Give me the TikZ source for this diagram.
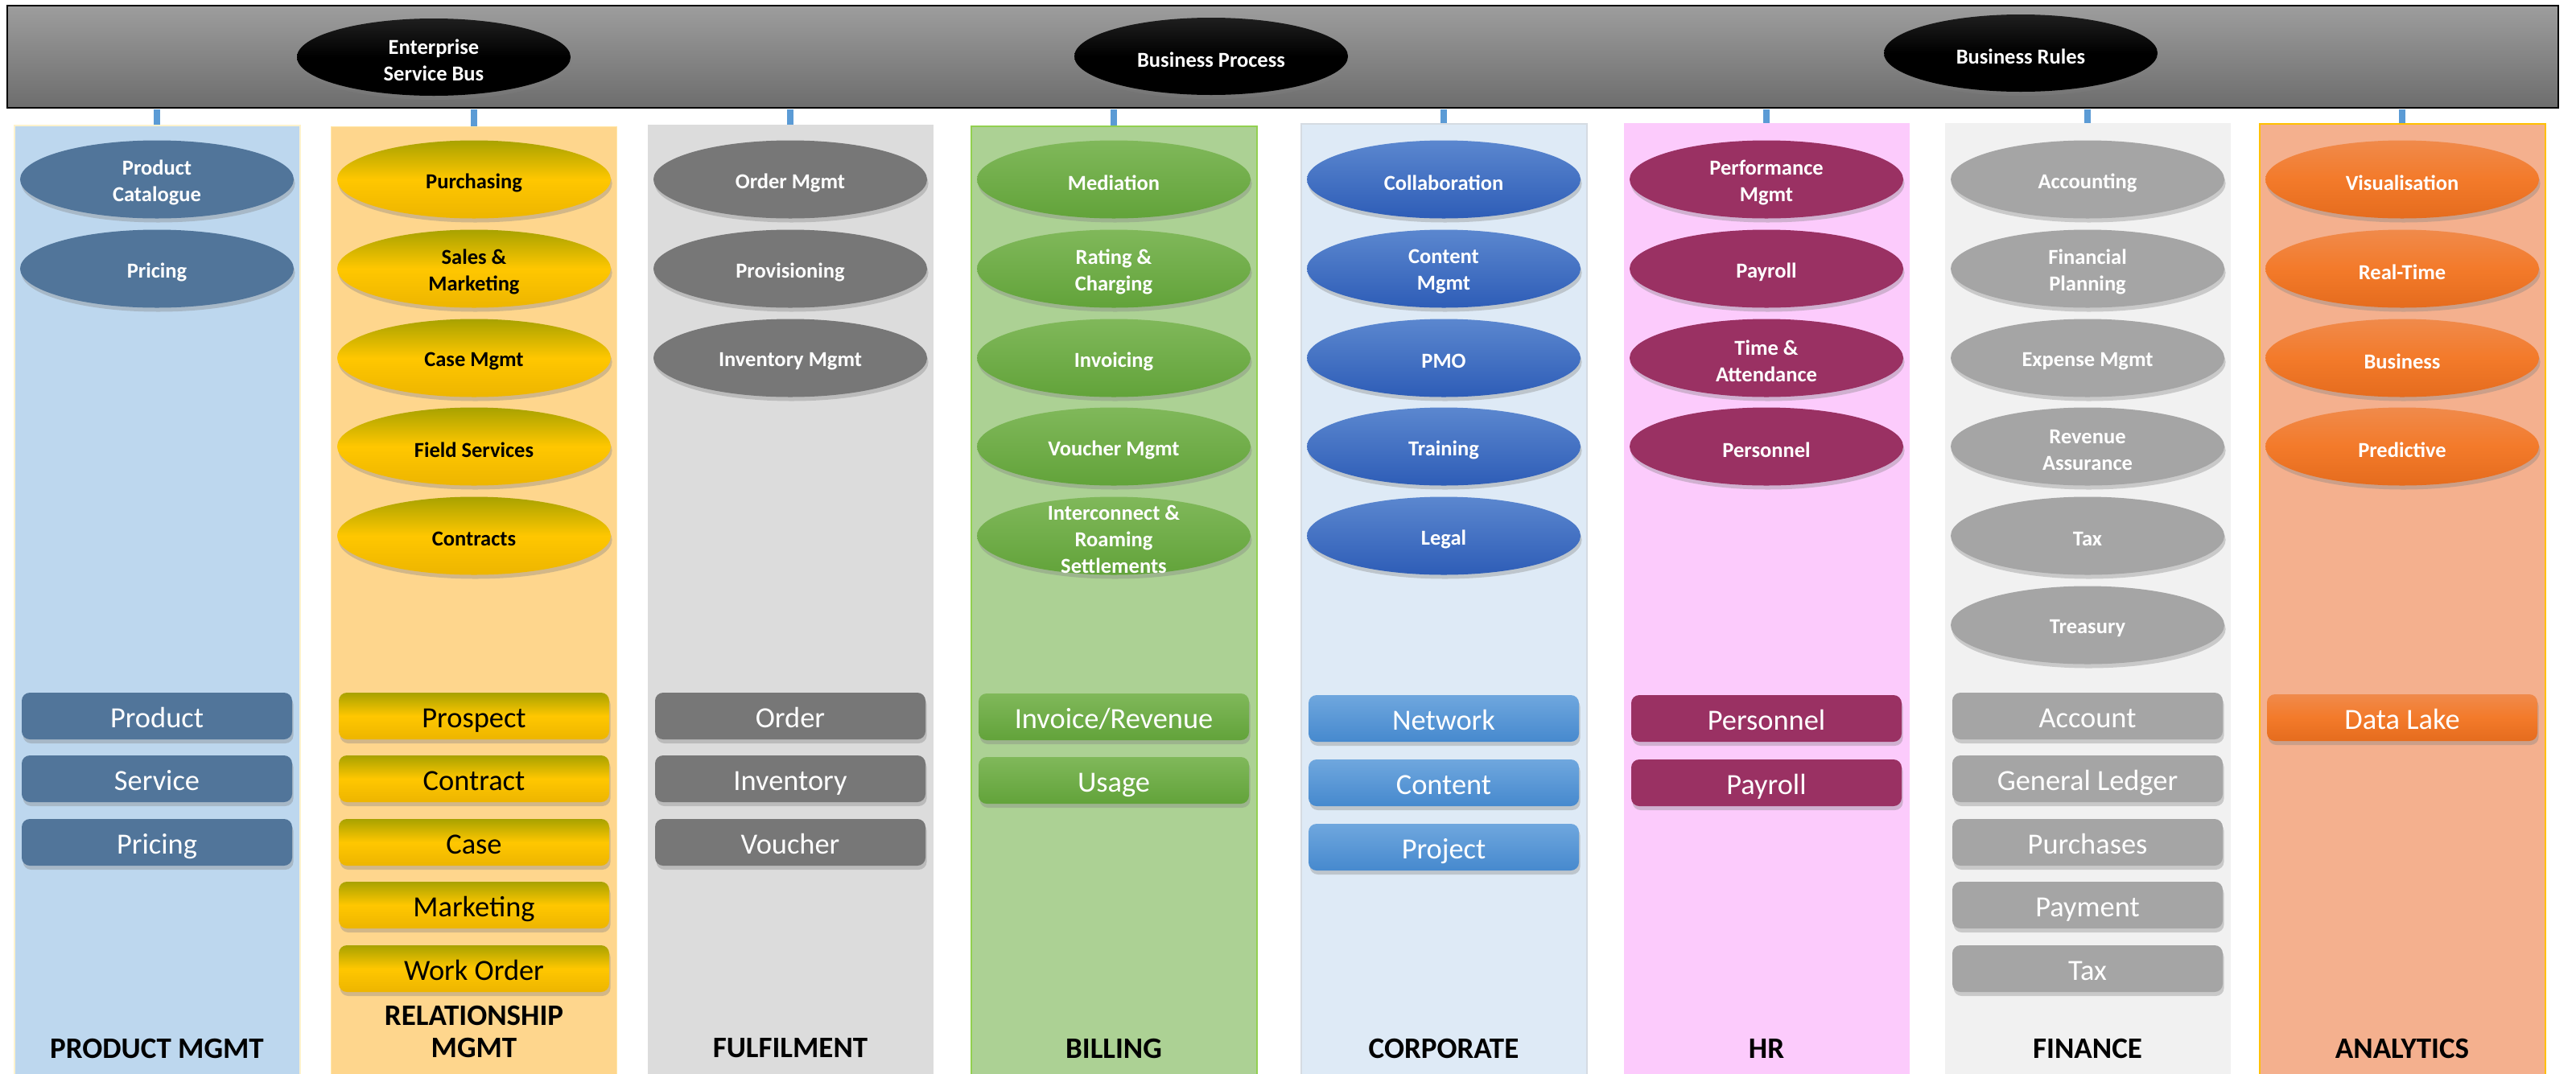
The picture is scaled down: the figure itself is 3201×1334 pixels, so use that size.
\documentclass[tikz,border=0pt]{standalone}
\usepackage{fontspec}
\setmainfont{Carlito}
\usetikzlibrary{shapes.geometric,shadows}
\definecolor{connblue}{HTML}{5B9BD5}
\definecolor{bgA}{HTML}{BDD7EE}
\definecolor{bdA}{HTML}{FFF2CC}
\definecolor{fgA}{HTML}{51759A}
\definecolor{bgB}{HTML}{FED68D}
\definecolor{bdB}{HTML}{FFE6A6}
\definecolor{yTop}{HTML}{A8A200}
\definecolor{yMid}{HTML}{FFC700}
\definecolor{yBot}{HTML}{EDB500}
\definecolor{bgC}{HTML}{DCDCDC}
\definecolor{fgC}{HTML}{777777}
\definecolor{bgD}{HTML}{ACD194}
\definecolor{bdD}{HTML}{92D050}
\definecolor{gTop}{HTML}{80B85A}
\definecolor{gBot}{HTML}{62A33A}
\definecolor{bgE}{HTML}{DEEAF6}
\definecolor{bdE}{HTML}{D5DBE2}
\definecolor{bTop}{HTML}{5B87CF}
\definecolor{bBot}{HTML}{2E5DB7}
\definecolor{lbTop}{HTML}{6FA7DE}
\definecolor{lbBot}{HTML}{4689CE}
\definecolor{bgF}{HTML}{FCCBFC}
\definecolor{fgF}{HTML}{9A3163}
\definecolor{bgG}{HTML}{F1F1F1}
\definecolor{fgG}{HTML}{A5A5A5}
\definecolor{bgH}{HTML}{F4B08E}
\definecolor{bdH}{HTML}{FFC000}
\definecolor{oTop}{HTML}{F08A4B}
\definecolor{oMid}{HTML}{F37A2A}
\definecolor{oBot}{HTML}{E56C1E}
\definecolor{barTop}{HTML}{9D9D9D}
\definecolor{barBot}{HTML}{6D6D6D}
\tikzset{
  col/.style={rectangle, minimum width=177.5pt, minimum height=592pt, inner sep=0pt, anchor=north},
  bar/.style={rectangle, minimum width=1585pt, minimum height=63.5pt, inner sep=0pt, draw=black, line width=1pt, top color=barTop, bottom color=barBot},
  conn/.style={draw=connblue, line width=4pt},
  shad/.style={drop shadow={shadow xshift=0.8pt, shadow yshift=-2.5pt, opacity=0.35}},
  ell/.style={ellipse, minimum width=170pt, minimum height=48.5pt, inner sep=0pt, shad},
  busell/.style={ellipse, minimum width=170pt, minimum height=48pt, inner sep=0pt, top color=black!88, bottom color=black, middle color=black, shad},
  box/.style={rectangle, rounded corners=5pt, minimum width=168pt, minimum height=29pt, inner sep=0pt, text height=16pt, text depth=2pt, font=\fontsize{18.2}{21}\selectfont, text=white, shad},
  boxk/.style={box, text=black},
  et/.style={font=\fontsize{13.25}{16.5}\selectfont\bfseries, align=center, text=white, inner sep=0pt, yshift=-2pt},
  etk/.style={et, text=black},
  lbl/.style={font=\fontsize{18.5}{20}\selectfont\bfseries, align=center, text=black, inner sep=0pt},
  fA/.style={fill=fgA},
  fB/.style={top color=yTop, bottom color=yBot, middle color=yMid},
  fC/.style={fill=fgC},
  fD/.style={top color=gTop, bottom color=gBot},
  fE/.style={top color=bTop, bottom color=bBot},
  fEl/.style={top color=lbTop, bottom color=lbBot},
  fF/.style={fill=fgF},
  fG/.style={fill=fgG},
  fH/.style={top color=oTop, bottom color=oBot, middle color=oMid},
}
\begin{document}
\begin{tikzpicture}[x=0.5pt,y=-0.5pt]
\useasboundingbox (0,0) rectangle (3201,1334);
\clip (0,0) rectangle (3201,1334);
\fill[white] (0,0) rectangle (3201,1334);

% columns
\node[col, fill=bgA, draw=bdA, line width=1pt] (c1) at (195,155) {};
\node[col, fill=bgB, draw=bdB, line width=0.6pt] (c2) at (589,157) {};
\node[col, fill=bgC] (c3) at (982,155) {};
\node[col, fill=bgD, draw=bdD, line width=1pt] (c4) at (1384,156) {};
\node[col, fill=bgE, draw=bdE, line width=1pt] (c5) at (1794,153) {};
\node[col, fill=bgF] (c6) at (2195,153) {};
\node[col, fill=bgG] (c7) at (2594,153) {};
\node[col, fill=bgH, draw=bdH, line width=1pt] (c8) at (2985,153) {};

% top bar
\node[bar] (bar) at (1594,70.5) {};
\node[busell, label={[et]center:Enterprise\\Service Bus}] (esb) at (539,71) {};
\node[busell, label={[et]center:Business Process}] (bp) at (1505,70) {};
\node[busell, label={[et]center:Business Rules}] (br) at (2511,66) {};

% connectors
\foreach \c in {c1,c2,c3,c4,c5,c6,c7,c8}
  \draw[conn] ([yshift=-0.5pt]bar.south -| \c.north) -- (\c.north);

% PRODUCT MGMT
\node[ell, fA, label={[et]center:Product\\Catalogue}] (a1) at (195,223) {};
\node[ell, fA, label={[et]center:Pricing}] (a2) at (195,334) {};
\node[box, fill=fgA] (ar1) at (195,890) {Product};
\node[box, fill=fgA] (ar2) at (195,968) {Service};
\node[box, fill=fgA] (ar3) at (195,1047) {Pricing};
\node[lbl] (al) at (195,1303) {PRODUCT MGMT};

% RELATIONSHIP MGMT
\node[ell, fB, label={[etk]center:Purchasing}] (b1) at (589,223) {};
\node[ell, fB, label={[etk]center:Sales \&\\Marketing}] (b2) at (589,334) {};
\node[ell, fB, label={[etk]center:Case Mgmt}] (b3) at (589,445) {};
\node[ell, fB, label={[etk]center:Field Services}] (b4) at (589,555) {};
\node[ell, fB, label={[etk]center:Contracts}] (b5) at (589,666) {};
\node[boxk, fB] (br1) at (589,890) {Prospect};
\node[boxk, fB] (br2) at (589,968) {Contract};
\node[boxk, fB] (br3) at (589,1047) {Case};
\node[boxk, fB] (br4) at (589,1125) {Marketing};
\node[boxk, fB] (br5) at (589,1204) {Work Order};
\node[lbl] (bl) at (589,1282) {RELATIONSHIP\\MGMT};

% FULFILMENT
\node[ell, fC, label={[et]center:Order Mgmt}] (f1) at (982,223) {};
\node[ell, fC, label={[et]center:Provisioning}] (f2) at (982,334) {};
\node[ell, fC, label={[et]center:Inventory Mgmt}] (f3) at (982,445) {};
\node[box, fC] (fr1) at (982,890) {Order};
\node[box, fC] (fr2) at (982,968) {Inventory};
\node[box, fC] (fr3) at (982,1047) {Voucher};
\node[lbl] (fl) at (982,1303) {FULFILMENT};

% BILLING
\node[ell, fD, label={[et]center:Mediation}] (d1) at (1384,223) {};
\node[ell, fD, label={[et]center:Rating \&\\Charging}] (d2) at (1384,334) {};
\node[ell, fD, label={[et]center:Invoicing}] (d3) at (1384,445) {};
\node[ell, fD, label={[et]center:Voucher Mgmt}] (d4) at (1384,555) {};
\node[ell, fD, label={[et]center:Interconnect \&\\Roaming\\Settlements}] (d5) at (1384,666) {};
\node[box, fD] (dr1) at (1384,891) {Invoice/Revenue};
\node[box, fD] (dr2) at (1384,970) {Usage};
\node[lbl] (dl) at (1384,1303) {BILLING};

% CORPORATE
\node[ell, fE, label={[et]center:Collaboration}] (e1) at (1794,223) {};
\node[ell, fE, label={[et]center:Content\\Mgmt}] (e2) at (1794,334) {};
\node[ell, fE, label={[et]center:PMO}] (e3) at (1794,445) {};
\node[ell, fE, label={[et]center:Training}] (e4) at (1794,555) {};
\node[ell, fE, label={[et]center:Legal}] (e5) at (1794,666) {};
\node[box, fEl] (er1) at (1794,893) {Network};
\node[box, fEl] (er2) at (1794,973) {Content};
\node[box, fEl] (er3) at (1794,1053) {Project};
\node[lbl] (el) at (1794,1303) {CORPORATE};

% HR
\node[ell, fF, label={[et]center:Performance\\Mgmt}] (h1) at (2195,223) {};
\node[ell, fF, label={[et]center:Payroll}] (h2) at (2195,334) {};
\node[ell, fF, label={[et]center:Time \&\\Attendance}] (h3) at (2195,445) {};
\node[ell, fF, label={[et]center:Personnel}] (h4) at (2195,555) {};
\node[box, fF] (hr1) at (2195,893) {Personnel};
\node[box, fF] (hr2) at (2195,973) {Payroll};
\node[lbl] (hl) at (2195,1303) {HR};

% FINANCE
\node[ell, fG, label={[et]center:Accounting}] (g1) at (2594,223) {};
\node[ell, fG, label={[et]center:Financial\\Planning}] (g2) at (2594,334) {};
\node[ell, fG, label={[et]center:Expense Mgmt}] (g3) at (2594,445) {};
\node[ell, fG, label={[et]center:Revenue\\Assurance}] (g4) at (2594,555) {};
\node[ell, fG, label={[et]center:Tax}] (g5) at (2594,666) {};
\node[ell, fG, label={[et]center:Treasury}] (g6) at (2594,777) {};
\node[box, fG] (gr1) at (2594,890) {Account};
\node[box, fG] (gr2) at (2594,968) {General Ledger};
\node[box, fG] (gr3) at (2594,1047) {Purchases};
\node[box, fG] (gr4) at (2594,1125) {Payment};
\node[box, fG] (gr5) at (2594,1204) {Tax};
\node[lbl] (gl) at (2594,1303) {FINANCE};

% ANALYTICS
\node[ell, fH, label={[et]center:Visualisation}] (n1) at (2985,223) {};
\node[ell, fH, label={[et]center:Real-Time}] (n2) at (2985,334) {};
\node[ell, fH, label={[et]center:Business}] (n3) at (2985,445) {};
\node[ell, fH, label={[et]center:Predictive}] (n4) at (2985,555) {};
\node[box, fH] (nr1) at (2985,892) {Data Lake};
\node[lbl] (nl) at (2985,1303) {ANALYTICS};
\end{tikzpicture}
\end{document}
